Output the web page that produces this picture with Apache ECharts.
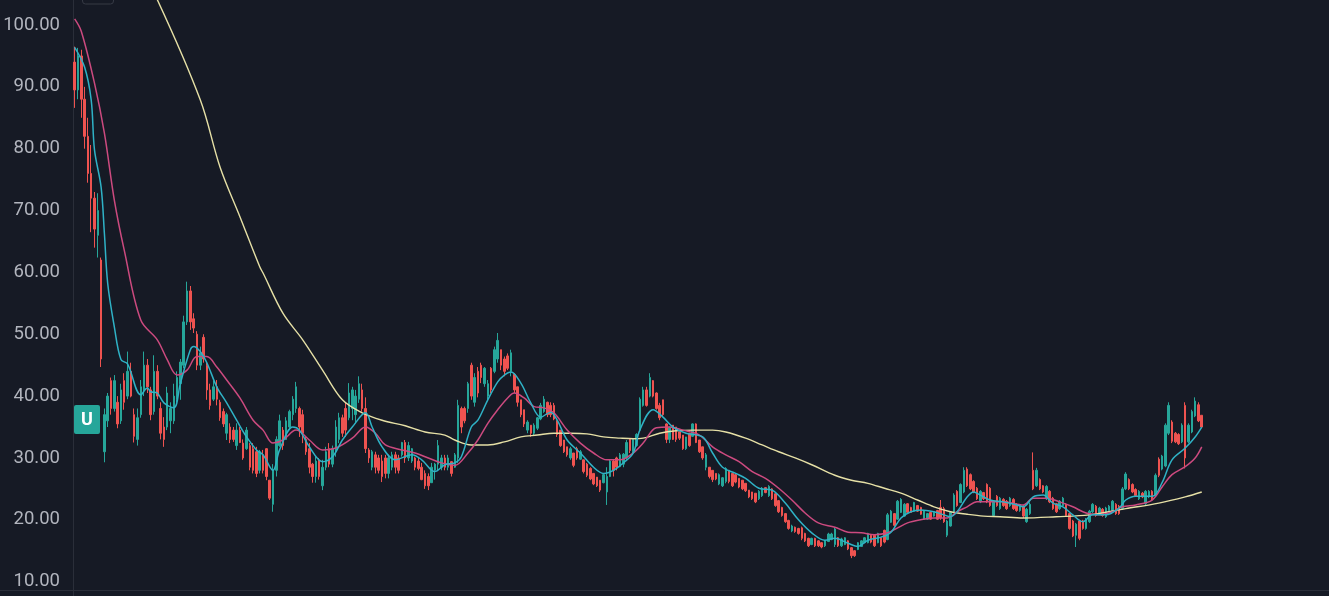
<!DOCTYPE html>
<html>
<head>
<meta charset="utf-8">
<script src="https://cdn.jsdelivr.net/npm/echarts@6/dist/echarts.min.js"></script>
<style>
html,body{margin:0;padding:0;background:#161a25;}
#chart{width:1329px;height:596px;}
</style>
</head>
<body>
<div id="chart"></div>
<script>
// candles: [open, close, low, high]
const candles = [
[94,89.5,86.6,96.5],[89.5,95,88,96.3],[95,88,85,96],[88,82,80,90],[82,76,74.5,85],
[76,72,66.5,80.6],[72,67,64,73],[66,70,62.4,72.8],[62,46,44.7,62.4],[31,37,29.3,38],
[36,40,35,40.5],[42.5,38,37,43],[38,42.5,37.5,43.4],[39,35.5,34.8,40],[36,41,35.5,42],
[42.5,39,37.8,43.7],[40,44,39.5,47.2],[44,40,39.8,45.4],[37,33.5,32.5,38],[33,36.5,32,38],
[37,41.5,36.5,42.6],[41,45,40,47.2],[45,41.5,40.5,46],[41,37,36.1,41.5],[37.5,44,37,46.6],
[44,40,39.5,45],[38,34,33,39],[35,33,31.8,36.6],[35,40.5,34.5,41.5],[36,38,34,39],
[36,40,35.5,42],[39.5,43,39,44],[42,45.5,39.4,46],[45,52,44.5,53],[52,57,51.5,58.5],
[57,52,50.7,57.8],[52.5,51,50.2,53.4],[50,45,44.2,50.5],[45,47,44.2,48],[49.5,46,45.4,50],
[45,41,39.4,45.4],[41,38.5,37.8,42],[39.5,41.5,39.2,42.5],[41.5,39.5,38.5,42.6],[39,36.5,36,39.4],
[37.5,35.5,35,38],[34,37,32.9,37.3],[35,33,32.4,35.6],[34.5,33,32.6,35],[32,34.5,31.3,35.6],
[34.5,32.5,32.4,35],[32.4,30,29.7,33],[31.5,34.5,31.3,35],[32,28.5,28,32.4],[31.5,28,27.5,32.4],
[31,27.5,26.9,31.8],[28,31,27.5,31.3],[30.5,28,27.5,31.3],[31.5,27,26.4,31.6],[26.4,23.5,23.2,26.4],
[22.5,28,21.3,29],[28,33,27,33.5],[32,36,31.8,37],[34.5,32,31.3,35],[33,36,32.9,36.6],
[35,37.5,34.5,37.8],[37,39.5,36.1,40],[38,41.5,37.3,42.3],[38,35,33.4,38.3],[37,34,32.4,37.8],
[33,31,30.5,33.5],[31.5,28.5,27.5,32.4],[29,27,26,29.2],[27,29.5,26,30.2],[29.5,27,26.5,30],
[25.5,28.5,24.8,29.7],[28.5,31,28,31.8],[31.5,29,28.5,32.4],[29,31.5,28.5,32],[31,35,30.2,36.1],
[33,36.5,32.4,37.3],[36.5,34,33.4,37],[38,34.5,33.4,38.9],[36.5,40.5,36.1,42.1],[38,41,36.1,41.5],
[37,40,35.6,41],[39.5,42,38.9,43.2],[41,38,37.5,42],[38,31.5,30.8,39.8],[31.3,30,29.2,31.6],
[28.5,31,28,31.3],[30.5,28.5,27.5,31],[30,28,27.5,30.5],[29.5,27,26.1,30.5],[30,27.5,26.7,30.5],
[27.5,30,26.7,30.5],[28.5,30.5,28,31],[30.5,28.5,27.5,31],[30,28,27.5,30.5],[30.5,32.5,30.2,32.6],
[32.5,30,29.2,32.9],[30,32,29.5,32.6],[29.5,31.5,29.2,31.6],[30,28.5,28,30.2],[29.5,28.3,28,30],
[28.5,26.5,26.4,29.2],[27.5,25.5,25,28],[27,25.5,24.8,27.5],[26,28.5,26,29.2],[28,29,26.5,29.2],
[29,32,28,32.9],[28.5,30,28,30.5],[30,28.5,28,30.5],[28.5,30,28,30.5],[29.4,27.5,27,29.5],
[28.5,30.5,28.4,30.8],[30,38.5,29.2,39.4],[38,35,34,38.3],[38,36,35.6,38.3],[38,42,37.3,42.3],
[45,40,39.4,45.4],[39,43,38.3,43.7],[44,40.5,39.8,44.7],[45,43,42.1,45.4],[42,44.5,41.5,44.7],
[40,42,39.4,42.6],[44.5,41,40.5,44.7],[44,47.5,43.7,48],[46,49,45.4,50.2],[47.5,45,44.2,47.5],
[46,44,43.2,46.4],[46.5,44.5,44.2,46.9],[44,47,43.2,47.5],[43.5,41,40.5,43.7],[41.5,39,38.3,41.5],
[39.4,37,36.6,39.4],[37.8,35.5,35,37.8],[34.5,35.8,34,36.1],[35.3,34,33.4,35.3],[34,35.3,33.7,35.6],
[34.8,36.5,34.5,36.6],[36.3,38.5,36.1,38.9],[37.5,39.5,37.3,40],[39,37,36.6,39.1],[38.5,37,36.6,39],
[38.5,36.3,36.1,38.9],[36,33.8,33.4,36.1],[34.5,32,31.8,34.5],[32.9,31,30.8,32.9],[31.8,30.5,30.2,31.8],
[30,31.5,29.7,31.8],[30.8,28.8,28.5,30.8],[31.5,30,29.7,31.8],[29.8,31,29.7,31.3],[29.7,27.8,27.5,29.7],
[29,27.2,26.9,29.2],[28.3,26.6,26.4,28.5],[27.5,25.8,25.6,27.5],[26.9,25.5,25.3,26.9],[26.4,24.8,24.5,26.4],
[26,27.3,25.9,27.5],[24.5,27,22.4,28.5],[27,29.5,26.9,29.7],[29.5,28,27,29.7],[30,28.5,28,30.2],
[28.6,30.5,28.5,30.8],[29,30.6,28.5,30.8],[30,32.5,29.7,32.9],[33,31.2,30.8,33.2],[31,33,30.8,33.2],
[32,33.8,31.8,34],[34.5,39.5,34.5,39.8],[38.5,41,38.3,41.5],[41,38.5,38.3,41.5],[40,43,39.8,43.7],
[42.5,40,39.8,42.6],[40.5,38,37.8,40.6],[38.5,36.5,36.1,38.9],[39.4,37,36.6,39.4],[35.5,33,32.4,35.6],
[33,35,32.4,35],[35.3,33,32.9,35.3],[35,33,32.6,35],[34.2,33.2,32.9,34.2],[33.7,31.5,31.3,33.7],
[31.5,33.4,31.3,33.4],[34,32,31.8,34],[33.5,35.5,33.4,35.6],[35.5,32.5,32.4,35.6],[32.9,31,30.8,32.9],
[31.8,30,29.7,31.8],[28.5,30.5,28,30.8],[28.5,27,26.7,28.5],[28,26.5,26.1,28],[27.5,26.6,26.4,27.5],
[25.8,27.3,25.6,27.5],[25.5,26.8,25.3,26.9],[26.2,28.3,25.9,28.5],[28,26.2,25.9,28],[27.5,25.5,25.3,27.5],
[27.3,26.1,25.9,27.5],[26.7,25.3,25.1,26.7],[26.4,25,24.8,26.4],[25.9,24.7,24.5,25.9],[24.8,23.7,23.5,24.8],
[24.5,23.4,23.2,24.5],[24.3,22.9,22.7,24.3],[23.4,24.6,23.2,24.8],[23.9,25.1,23.7,25.3],[25.2,24.4,24.3,25.3],
[23.9,25.4,23.7,25.6],[25,23.4,23.2,25.1],[24.2,22.3,22.1,24.3],[23.1,21.3,21.1,23.2],[22,20.7,20.5,22.1],
[21,19.7,19.5,21.1],[19.9,18.6,18.4,20],[18.2,19,18,19.2],[18.8,18.1,17.9,18.9],[18.6,17.8,17.6,18.7],
[18.7,17,16.7,18.9],[17.8,16.6,16.4,17.9],[17,15.8,15.6,17.1],[16,17,15.9,17.1],[17,15.8,15.6,17.1],
[16.6,15.8,15.6,16.7],[16.3,15.6,15.4,16.4],[15.8,16.6,15.6,16.7],[16.5,17.7,16.4,17.9],[16.8,17.7,16.7,17.9],
[16,18.5,15.6,18.7],[17.1,15.8,15.6,17.2],[15.8,16.9,15.6,17.1],[16,17.1,15.9,17.2],[16.6,15.3,15.1,16.7],
[15.5,14.2,13.8,15.6],[15,14.2,14,15.1],[15.2,16.3,15.1,16.4],[15.7,16.6,15.6,16.7],[16.3,17.1,16.2,17.2],
[16.3,17.8,16.2,17.9],[17.5,16.4,16.2,17.6],[17.5,15.8,15.6,17.6],[16.3,17.8,16.2,17.9],[17.1,15.8,15.6,17.2],
[18.3,16.4,16.2,18.4],[16.8,20.8,16.7,21.1],[19.6,21.4,19.5,21.6],[21,19.1,18.9,21.1],[20.1,23,20,23.2],
[21.2,23.3,21.1,23.5],[20.6,22.5,20.5,22.7],[22.6,21.2,21.1,22.7],[22,21.2,21.1,22.1],[21.4,22.8,21.3,22.9],
[22.3,21.4,21.3,22.4],[22,20.9,20.8,22.1],[20.1,21.5,20,21.6],[20.1,21,20,21.1],[21.2,20.1,20,21.3],
[20.6,21.2,20.5,21.3],[21.5,20.1,20,21.6],[22,20.3,20,23.2],[21.8,19.7,19.5,22.1],[17.5,19.8,17.2,20],
[19,21.2,18.9,21.3],[21.2,24,21.1,24.3],[24.6,22.3,22.1,24.8],[22.8,25.7,22.7,25.9],[24.5,28,24.3,28.5],
[28.2,25.5,25.3,28.5],[27.3,25,24.8,27.5],[26.2,24.5,24.3,26.4],[25.1,23.4,23.2,25.3],[22.9,24.6,22.7,24.8],
[24.4,23.4,23.2,24.5],[25.7,22.9,22.7,25.9],[25.1,22.3,22.1,25.3],[20.7,23,20.5,23.2],[23.8,22.3,22.1,24],
[21.8,23.5,21.6,23.7],[23.3,22.3,22.1,23.5],[23,21.8,21.6,23.2],[22.3,23.5,22.1,23.7],[23.3,21.8,21.6,23.5],
[22.5,21.5,21.3,22.7],[21.5,22.3,21.3,22.4],[22.2,20.6,20.3,22.4],[19.7,21.7,19.5,21.9],[21,22.5,20.8,22.8],
[28,25,24.8,30.9],[25.5,28,25.3,28.4],[26.5,25,24.8,26.7],[25.5,24.5,24.3,25.6],[23.4,25.4,23.2,25.6],
[24.6,22.9,22.7,24.8],[23.5,21.8,21.6,23.7],[22.6,21.3,21.1,22.7],[21.8,23,21.6,23.2],[22.3,23.5,22.1,23.7],
[22.5,20.7,20.5,22.7],[21,18.6,18.4,21.1],[19.8,17.4,17.2,20],[17.5,19.3,15.6,19.5],[19.8,17,16.7,20],
[19.8,18.6,18.4,20],[18.6,20.1,18.4,20.3],[19.7,21.4,19.5,21.6],[21.3,22.5,21.1,22.7],[22.2,20.7,20.5,22.4],
[20.9,21.9,20.8,22.1],[21.7,20.7,20.5,21.9],[20.5,21.9,20.3,22.1],[21.5,22.2,21.3,22.4],[21.5,23,21.3,23.2],
[22.5,21,20.8,22.7],[22.2,21,20.8,22.4],[21.8,25,21.6,25.3],[25,27.4,24.8,27.7],[26.5,25,24.8,26.7],
[25.7,24.5,24.3,25.9],[24.9,23.9,23.7,25.1],[23.4,24.6,23.2,24.8],[24.3,23.7,23.5,24.5],[22.6,24.6,22.4,24.8],
[23.7,24.6,23.5,24.8],[24.6,23.4,23.2,24.8],[23.9,27.2,23.7,27.5],[29.8,27.2,26.9,30.1],[28.2,30.3,28,30.5],
[28.7,35.3,28.5,35.6],[34,38.5,33.7,39],[35.8,32.7,32.4,36.1],[34,32.6,32.4,34.2],[33.8,32.3,32.1,34],
[32.6,35.3,32.4,35.6],[38.5,30,28.3,39],[32.6,35.3,32.4,35.6],[34.2,37.5,34,37.8],[36.8,39.2,36.6,39.8],
[38.6,36,35.8,39],[36.9,35,34.8,36.9]
];

// moving averages: [bar index, value]
const maFast = [[0,96.4],[3,93.2],[5,87.9],[6,79.8],[8,73.8],[9,66.3],[10,58.2],[12,51.2],[14,45.9],[16,45.2],[20,40.2],[22,41.3],[23,40.7],[25,40.5],[27,38.9],[30,38.1],[32,42.1],[35,47.5],[36,48],[38,47.2],[40,45.4],[43,41.5],[46,38.9],[49,36.1],[52,33.4],[55,31.3],[57,30.5],[60,28],[62,31.3],[66,35],[68,34.5],[71,31.8],[75,29.4],[78,30.2],[81,32.9],[84,35],[88,37.3],[90,35],[93,31.8],[97,29.7],[102,30.5],[105,29.7],[109,27.8],[112,28.9],[115,29.2],[117,30.2],[120,35],[122,36.1],[125,39.4],[128,42.3],[130,43.4],[132,43.9],[135,42.1],[138,38.9],[141,36.6],[144,37.4],[146,36.1],[149,32.9],[153,30.8],[157,28.5],[160,27.5],[163,28],[166,29.2],[169,30.8],[171,34.5],[175,37.8],[178,36.6],[181,35],[185,34],[190,33.4],[193,30.8],[196,28.5],[200,27.5],[203,26.7],[207,25.1],[211,24.8],[215,22.7],[219,20],[223,17.9],[227,16.7],[230,17],[234,16.2],[237,15.7],[240,16.7],[244,17.2],[247,18],[250,20.3],[253,21.3],[256,21.6],[260,21.3],[263,20.8],[265,20.5],[267,21.3],[270,23.7],[272,24.5],[274,24],[277,23.2],[281,22.9],[285,22.4],[287,22.1],[290,23.7],[293,24],[296,22.7],[299,22.1],[302,20.8],[305,19.7],[308,20.8],[312,20.8],[316,21.9],[318,23.2],[321,23.8],[326,23.8],[329,26],[332,29.7],[336,31.6],[339,33.4],[341,35]];
const maMid = [[0,101],[2,99],[6,90.6],[9,82.5],[12,71.7],[15,63.6],[20,52.3],[25,49.1],[28,45.9],[31,43.4],[34,44.2],[37,46.4],[40,46.4],[43,44.7],[46,42.6],[50,39.7],[54,36.1],[57,34.5],[60,32.4],[63,32.9],[67,34.5],[71,32.9],[75,31.3],[79,31.6],[84,33.2],[88,35],[91,34],[94,32.1],[99,31.3],[103,30.8],[107,30],[111,29.2],[115,28.8],[119,30.8],[122,32.9],[125,35.6],[128,37.8],[131,39.7],[133,40.5],[136,39.7],[139,38.3],[142,38.1],[145,37.3],[149,34.5],[153,32.4],[157,30.8],[161,29.7],[165,29.7],[169,30.8],[172,32.4],[176,34.9],[180,35],[184,34.5],[189,33.7],[193,31.8],[197,30.5],[201,29.4],[205,27.8],[209,26.7],[213,25.1],[217,23.2],[221,21.1],[225,19.5],[230,18.8],[234,18],[238,17.9],[242,17.6],[246,17.9],[249,18.7],[252,19.5],[256,20],[260,20.3],[264,20.3],[267,21.3],[270,22.1],[273,22.9],[277,22.9],[281,22.9],[287,22.4],[290,23.5],[294,23.5],[298,22.9],[302,22.1],[306,21.1],[310,20.8],[314,21.3],[317,22.1],[321,22.4],[326,23.2],[329,25.3],[332,27.3],[336,28.6],[339,30],[341,31.8]];
const maSlow = [[21,107.5],[25,104.1],[38,87.9],[44,77],[50,69],[56,60.9],[57,59.9],[63,53.4],[69,49.1],[75,44.2],[81,39.4],[87,37.3],[93,36.1],[100,35.2],[106,34.2],[112,33.7],[115,32.9],[120,32.1],[125,32.1],[130,32.6],[135,33.4],[140,33.7],[145,34],[150,34],[155,33.9],[160,33.4],[165,33.2],[169,33.1],[172,33.2],[177,34],[182,34.4],[187,34.5],[193,34.5],[197,34.2],[203,33.2],[208,32.1],[213,31],[218,30],[223,28.9],[230,27.2],[235,26.4],[240,25.9],[245,25.1],[250,24.3],[255,23.2],[260,22.1],[265,21.3],[270,20.9],[275,20.6],[280,20.5],[287,20.3],[297,20.5],[307,20.8],[318,21.8],[328,22.7],[336,23.7],[341,24.5]];

const totalSlots = 380;
const categories = [];
for (let i = 0; i < totalSlots; i++) categories.push(String(i));

const yTicksMin = 0, yTicksMax = 110, yTickStep = 10;

const chart = echarts.init(document.getElementById('chart'), null, {renderer: 'canvas'});
const lineCommon = {type: 'line', showSymbol: false, smooth: 0.35, animation: false, z: 3, xAxisIndex: 0, yAxisIndex: 0};
chart.setOption({
  backgroundColor: '#161a25',
  animation: false,
  grid: [
    {left: 73, right: 0, top: -36.85, bottom: -47.5, containLabel: false, outerBoundsMode: 'none'},
    {left: 0, right: 0, top: 590, height: 6, containLabel: false, outerBoundsMode: 'none'}
  ],
  xAxis: [
    {type: 'category', data: categories, gridIndex: 0, show: false, boundaryGap: true},
    {type: 'value', gridIndex: 1, position: 'top', min: 0, max: 1,
     axisLine: {show: true, onZero: false, lineStyle: {color: '#2a2e39', width: 1}},
     axisTick: {show: false}, axisLabel: {show: false}, splitLine: {show: false}}
  ],
  yAxis: [
    {type: 'value', gridIndex: 0, min: yTicksMin, max: yTicksMax, interval: yTickStep, position: 'left',
     axisLine: {show: true, lineStyle: {color: '#2a2e39', width: 1}},
     axisTick: {show: false}, splitLine: {show: false},
     axisLabel: {color: '#b2b5be', fontFamily: 'Roboto', fontSize: 18.5, margin: 13,
       formatter: v => v.toFixed(2)}},
    {type: 'value', gridIndex: 1, show: false, min: 0, max: 1}
  ],
  series: [
    {type: 'candlestick', data: candles, barWidth: 2, xAxisIndex: 0, yAxisIndex: 0,
     itemStyle: {color: '#26a69a', color0: '#ef5350', borderColor: '#26a69a', borderColor0: '#ef5350', borderWidth: 1}},
    Object.assign({data: maSlow, lineStyle: {color: '#e6e0a6', width: 1.4}}, lineCommon),
    Object.assign({data: maMid, lineStyle: {color: '#cc4a7f', width: 1.5}}, lineCommon),
    Object.assign({data: maFast, lineStyle: {color: '#2fb2c6', width: 1.5}}, lineCommon)
  ],
  graphic: [
    {type: 'rect', left: 80, top: -20, shape: {width: 31, height: 21.5, r: 3},
     style: {fill: 'none', stroke: '#363a45', lineWidth: 1}},
    {type: 'group', left: 74, top: 405, children: [
      {type: 'rect', shape: {x: 0, y: 0, width: 26, height: 29, r: 2}, style: {fill: '#26a69a'}},
      {type: 'text', x: 13, y: 15, style: {text: 'U', fill: '#ffffff', font: 'bold 18px Roboto', align: 'center', verticalAlign: 'middle'}}
    ]}
  ]
});
</script>
</body>
</html>
